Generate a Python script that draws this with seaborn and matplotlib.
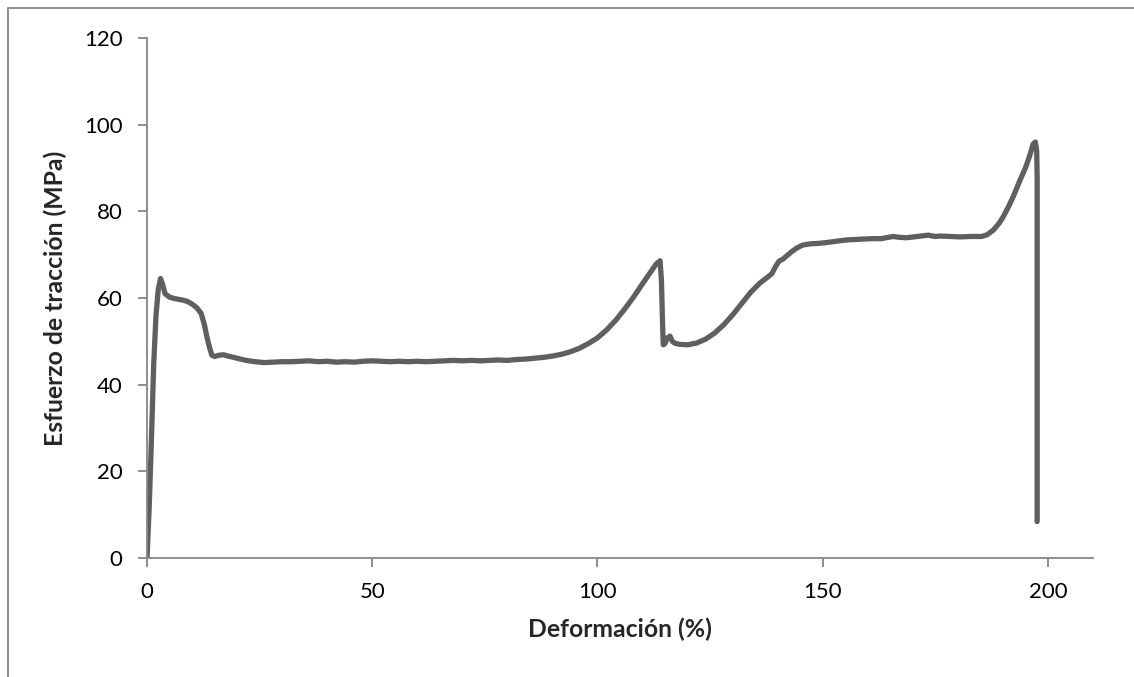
import matplotlib
matplotlib.use("Agg")
import matplotlib.pyplot as plt
from matplotlib.lines import Line2D
import seaborn as sns
import pandas as pd

# Tensile test curve: strain (%) vs. tensile stress (MPa)
strain = [0, 0.5, 1.0, 1.5, 2.0, 2.5, 3.0, 3.5, 4.0, 5, 6, 7, 8, 9, 10, 11, 12,
          12.7, 13.3, 13.9, 14.4, 15, 16, 17, 18, 20, 22, 24, 26, 28, 30, 32,
          34, 36, 38, 40, 42, 44, 46, 48, 50, 52, 54, 56, 58, 60, 62, 64, 66,
          68, 70, 72, 74, 76, 78, 80, 82, 84, 86, 88, 90, 92, 94, 96, 98, 100,
          102, 104, 106, 108, 110, 112, 113, 113.9, 114.2, 114.4, 114.6, 115.0,
          115.5, 116.1, 116.6, 117.3, 118.3, 120, 122, 124, 126, 128, 130, 132,
          134, 136, 137.5, 138.7, 139.5, 140.3, 141.2, 142, 143, 144.2, 145.5,
          147.2, 149, 150.9, 153, 155.3, 157, 159, 161.2, 163, 165.6, 167,
          168.6, 171, 173.4, 175, 176, 178, 180.5, 183, 185.3, 186.5, 187.9,
          189.2, 190.1, 191.2, 192.3, 193.8, 195, 196, 196.7, 197.2, 197.5,
          197.6, 197.6, 197.6, 197.6]
stress = [0, 12, 28, 45, 56, 62, 64.5, 63, 61, 60.2, 59.9, 59.7, 59.5, 59.2,
          58.6, 57.8, 56.5, 54, 51, 48.5, 46.8, 46.5, 46.8, 46.9, 46.6, 46.1,
          45.6, 45.3, 45.1, 45.2, 45.3, 45.3, 45.4, 45.5, 45.3, 45.4, 45.2,
          45.3, 45.2, 45.4, 45.5, 45.4, 45.3, 45.4, 45.3, 45.4, 45.3, 45.4,
          45.5, 45.6, 45.5, 45.6, 45.5, 45.6, 45.7, 45.6, 45.8, 45.9, 46.1,
          46.3, 46.6, 47.0, 47.6, 48.4, 49.5, 50.8, 52.6, 54.8, 57.4, 60.2,
          63.3, 66.3, 67.8, 68.6, 64, 56, 49.2, 49.5, 50.8, 51.2, 50.0, 49.5,
          49.3, 49.2, 49.6, 50.5, 51.9, 53.8, 56.1, 58.7, 61.3, 63.4, 64.6,
          65.6, 67.2, 68.5, 69.0, 69.7, 70.6, 71.5, 72.2, 72.5, 72.6, 72.8,
          73.1, 73.4, 73.5, 73.6, 73.7, 73.7, 74.2, 74.0, 73.9, 74.2, 74.5,
          74.2, 74.3, 74.2, 74.1, 74.2, 74.2, 74.6, 75.7, 77.3, 78.8, 81.0,
          83.4, 87.2, 90, 93, 95.5, 96.0, 94, 88, 60, 30, 8.4]

x_ticks = [0, 50, 100, 150, 200]
y_ticks = [0, 20, 40, 60, 80, 100, 120]

df = pd.DataFrame({"strain": strain, "stress": stress})

sns.set_style("white")
plt.rcParams["font.family"] = ["Lato", "DejaVu Sans"]

axis_grey = "#868686"
fig = plt.figure(figsize=(11.34, 6.77), dpi=100)
ax = fig.add_axes([147 / 1134, 1 - 558 / 677, (1093 - 147) / 1134, (558 - 38) / 677])

sns.lineplot(data=df, x="strain", y="stress", sort=False, estimator=None,
             color="#5f5f5f", linewidth=3.8, ax=ax,
             solid_capstyle="round", solid_joinstyle="round")

ax.set_xlim(0, 210)
ax.set_ylim(0, 120)
ax.set_xticks(x_ticks)
ax.set_yticks(y_ticks)
ax.set_xticklabels([str(t) for t in x_ticks])
ax.set_yticklabels([str(t) for t in y_ticks])

for side in ("top", "right"):
    ax.spines[side].set_visible(False)
for side in ("left", "bottom"):
    ax.spines[side].set_color(axis_grey)
    ax.spines[side].set_linewidth(1.3)

ax.tick_params(axis="both", direction="out", length=6.5, width=1.3,
               color=axis_grey, labelsize=16, labelcolor="black", pad=11)
ax.tick_params(axis="x", bottom=True)
ax.tick_params(axis="y", left=True)

ax.set_xlabel("Deformación (%)", fontsize=17.8, fontweight="bold", labelpad=11)
ax.set_ylabel("Esfuerzo de tracción (MPa)", fontsize=17.8, fontweight="bold", labelpad=12)

# Outer chart frame (left and top edges)
fig.add_artist(Line2D([8 / 1134, 8 / 1134], [0, 1 - 8 / 677],
                      transform=fig.transFigure, color=axis_grey, linewidth=1.3))
fig.add_artist(Line2D([8 / 1134, 1], [1 - 8 / 677, 1 - 8 / 677],
                      transform=fig.transFigure, color=axis_grey, linewidth=1.3))

fig.savefig("out.png", dpi=100)
